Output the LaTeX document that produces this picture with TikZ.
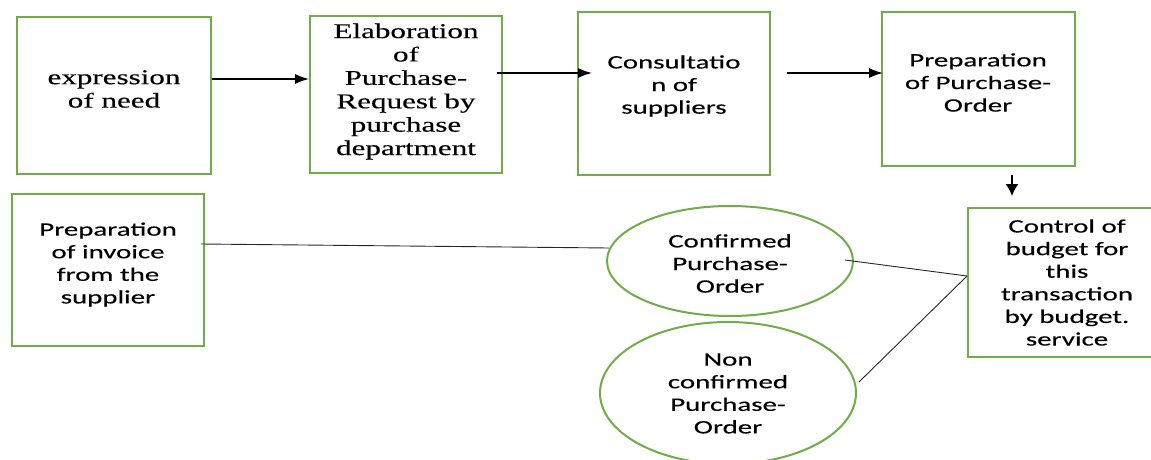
\documentclass[tikz,border=0pt]{standalone}
\usepackage{fontspec}
\setmainfont{Liberation Serif}
\newfontfamily\serw[FakeStretch=1.48,FakeBold=0.3]{Liberation Serif}
\newfontfamily\sansw[FakeStretch=1.52,FakeBold=0.3]{Carlito}
\usetikzlibrary{arrows.meta,shapes.geometric}
\definecolor{grn}{HTML}{70AD47}
\tikzset{
  gbox/.style={draw=grn, line width=2pt, rectangle, inner sep=0pt},
  gell/.style={draw=grn, line width=2pt, ellipse, inner sep=0pt},
  stxt/.style={font=\serw\fontsize{21}{23.4}\selectfont, align=center, inner sep=0pt},
  ssans/.style={font=\sansw\fontsize{19}{22.6}\selectfont, align=center, inner sep=0pt},
  flow/.style={line width=1.4pt, -{Latex[length=14pt,width=10pt]}},
  thin/.style={line width=0.9pt, black!85}
}
\begin{document}
\begin{tikzpicture}[x=1pt,y=-1pt]
\useasboundingbox (0,0) rectangle (1151,460);
% boxes
\node[gbox, minimum width=194pt, minimum height=157pt] (b1) at (114,95.5) {};
\node[gbox, minimum width=192pt, minimum height=157pt] (b2) at (406,94.5) {};
\node[gbox, minimum width=192pt, minimum height=163pt] (b3) at (674,93.5) {};
\node[gbox, minimum width=193pt, minimum height=154pt] (b4) at (978.5,89) {};
\node[gbox, minimum width=198pt, minimum height=149pt] (b5) at (1067,282.5) {};
\node[gbox, minimum width=192pt, minimum height=152pt] (b6) at (108,270) {};
\node[gell, minimum width=246pt, minimum height=110pt] (e1) at (730,261) {};
\node[gell, minimum width=256pt, minimum height=142pt] (e2) at (728,393) {};
% texts
\node[stxt] (b1t) at (114,89) {expression\\of need};
\node[stxt] (b2t) at (406,91.5) {Elaboration\\of\\Purchase-\\Request by\\purchase\\department};
\node[ssans] (b3t) at (674,86) {Consultatio\\n of\\suppliers};
\node[ssans] (b4t) at (978,82.5) {Preparation\\of Purchase-\\Order};
\node[ssans] (b5t) at (1067,282.5) {Control of\\budget for\\this\\transaction\\by budget.\\service};
\node[ssans] (b6t) at (108,264.5) {Preparation\\of invoice\\from the\\supplier};
\node[ssans] (e1t) at (730,263.5) {Confirmed\\Purchase-\\Order};
\node[ssans] (e2t) at (728,393.5) {Non\\confirmed\\Purchase-\\Order};
% free ends
\coordinate (a3s) at (787,73);
\coordinate (d1) at (1012,175);
\coordinate (d2) at (1012,196);
% arrows
\draw[flow] ([yshift=16.5pt]b1.east) -- ([yshift=15.5pt]b2.west);
\draw[flow] ([xshift=-6pt,yshift=21.5pt]b2.east) -- ([xshift=15pt,yshift=20.5pt]b3.west);
\draw[flow] (a3s) -- ([xshift=2pt,yshift=16pt]b4.west);
\draw[line width=1.4pt, -{Latex[length=12pt,width=13pt]}] (d1) -- (d2);
% thin lines
\draw[thin] ([xshift=-4pt,yshift=26pt]b6.east) -- ([xshift=3pt,yshift=13pt]e1.west);
\draw[thin] ([xshift=-9pt,yshift=1pt]e1.east) -- ([yshift=6.5pt]b5.west);
\draw[thin] ([xshift=2pt,yshift=11pt]e2.east) -- ([yshift=6.5pt]b5.west);
\end{tikzpicture}
\end{document}
